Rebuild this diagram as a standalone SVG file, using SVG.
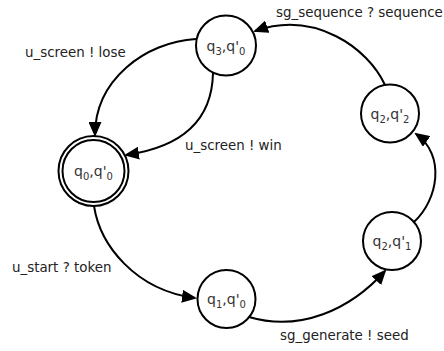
<svg xmlns="http://www.w3.org/2000/svg" width="444" height="351" viewBox="0 0 444 351">
  <style>
    .state { fill: #ffffff; stroke: #000000; stroke-width: 2; }
    .edge { fill: none; stroke: #000000; stroke-width: 2; marker-end: url(#arrow); }
    .name { font-family: "DejaVu Sans", Verdana, sans-serif; font-size: 14px; fill: #333333; text-anchor: middle; }
    .sub { font-size: 10px; }
    .label { font-family: "DejaVu Sans", Verdana, sans-serif; font-size: 13.4px; fill: #222222; }
  </style>
  <defs>
    <marker id="arrow" viewBox="0 0 15 13" refX="13" refY="6.5" markerWidth="15" markerHeight="13" markerUnits="userSpaceOnUse" orient="auto">
      <path d="M0,0 L15,6.5 L0,13 z" fill="#000000"/>
    </marker>
  </defs>

  <rect width="444" height="351" fill="#ffffff"/>

  <!-- transitions -->
  <g id="edges">
    <path class="edge" d="M196,39 C145,42 95,80 95,135"/>
    <path class="edge" d="M213,73 C212,125 175,148 126,155"/>
    <path class="edge" d="M94,206 C100,245 135,290 195,298"/>
    <path class="edge" d="M249,317 C300,332 350,310 385,271"/>
    <path class="edge" d="M414,222 C438,200 446,155 416,134"/>
    <path class="edge" d="M385,85 C368,48 315,10 255,31"/>
  </g>

  <!-- transition labels -->
  <g id="labels">
    <text class="label" x="25" y="57">u_screen ! lose</text>
    <text class="label" x="185" y="150">u_screen ! win</text>
    <text class="label" x="12" y="272">u_start ? token</text>
    <text class="label" x="280" y="340">sg_generate ! seed</text>
    <text class="label" x="276" y="17">sg_sequence ? sequence</text>
  </g>

  <!-- states -->
  <g id="q0q0">
    <circle class="state" cx="93.5" cy="171" r="35"/>
    <circle class="state" cx="93.5" cy="171" r="31"/>
    <text class="name" x="93.5" y="176">q<tspan class="sub" dy="4">0</tspan><tspan dy="-4">,q'</tspan><tspan class="sub" dy="4">0</tspan></text>
  </g>
  <g id="q3q0">
    <circle class="state" cx="226" cy="45.5" r="30"/>
    <text class="name" x="226" y="50.5">q<tspan class="sub" dy="4">3</tspan><tspan dy="-4">,q'</tspan><tspan class="sub" dy="4">0</tspan></text>
  </g>
  <g id="q1q0">
    <circle class="state" cx="226.5" cy="299" r="29"/>
    <text class="name" x="226.5" y="304">q<tspan class="sub" dy="4">1</tspan><tspan dy="-4">,q'</tspan><tspan class="sub" dy="4">0</tspan></text>
  </g>
  <g id="q2q1">
    <circle class="state" cx="392" cy="241" r="29"/>
    <text class="name" x="392" y="246">q<tspan class="sub" dy="4">2</tspan><tspan dy="-4">,q'</tspan><tspan class="sub" dy="4">1</tspan></text>
  </g>
  <g id="q2q2">
    <circle class="state" cx="390" cy="113.5" r="29"/>
    <text class="name" x="390" y="118.5">q<tspan class="sub" dy="4">2</tspan><tspan dy="-4">,q'</tspan><tspan class="sub" dy="4">2</tspan></text>
  </g>
</svg>
